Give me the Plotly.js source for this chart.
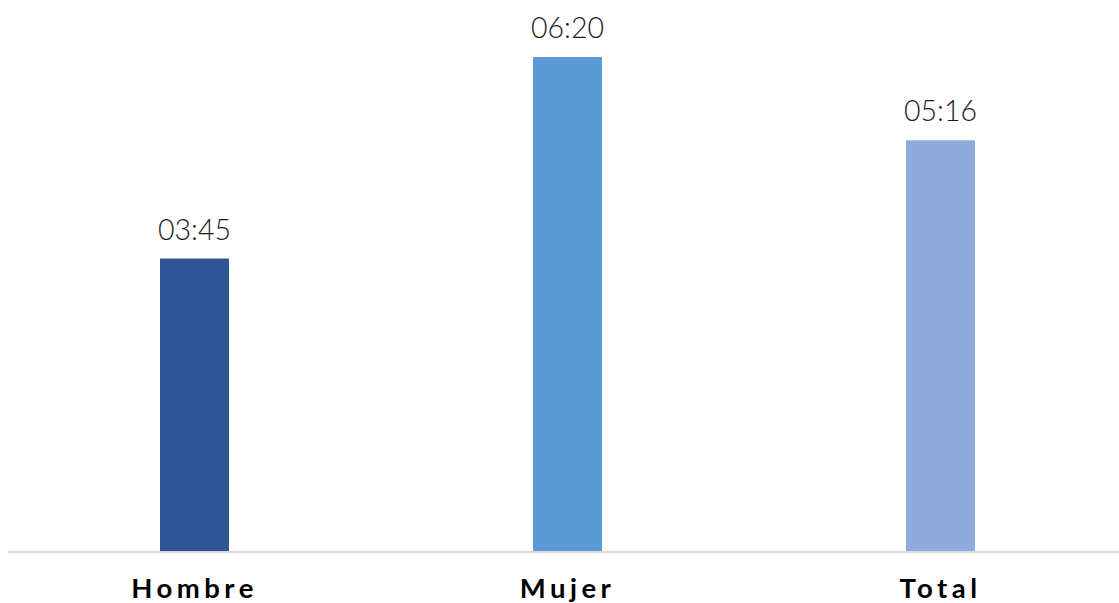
<!DOCTYPE html>
<html>
<head>
<meta charset="utf-8">
<script src="https://cdn.plot.ly/plotly-3.0.1.min.js"></script>
<style>
html,body{margin:0;padding:0;overflow:hidden;background:#fff;}
#chart{width:1127px;height:603px;}
.xtick text{letter-spacing:4.5px;}
</style>
</head>
<body>
<div id="chart"></div>
<script>
const categories = ["Hombre", "Mujer", "Total"];
const minutes = [225, 380, 316];          // 03:45, 06:20, 05:16
const valueLabels = ["03:45", "06:20", "05:16"];
const barColors = ["#2F5597", "#5B9BD5", "#8FAADC"];

const trace = {
  type: "bar",
  x: categories,
  y: minutes,
  marker: {color: barColors},
  hoverinfo: "skip"
};

const annotations = categories.map((c, i) => ({
  x: c, y: minutes[i], xref: "x", yref: "y",
  text: valueLabels[i], showarrow: false,
  yanchor: "bottom", yshift: 11,
  font: {family: "Lato, sans-serif", size: 28.5, color: "#1a1a1a", weight: 300}
}));

const layout = {
  width: 1127, height: 603,
  margin: {l: 8, r: 0, t: 0, b: 52},
  paper_bgcolor: "#ffffff",
  plot_bgcolor: "#ffffff",
  bargap: 0.815,
  showlegend: false,
  xaxis: {
    showline: true, linecolor: "#D9D9D9", linewidth: 2,
    ticks: "", showgrid: false, zeroline: false,
    tickfont: {family: "Lato, sans-serif", size: 27.5, color: "#000000", weight: "bold"},
    ticklabelstandoff: 12
  },
  yaxis: {
    range: [0, 551/1.3],
    visible: false, showgrid: false, zeroline: false
  },
  annotations: annotations
};

Plotly.newPlot("chart", [trace], layout, {displayModeBar: false, staticPlot: true});
</script>
</body>
</html>
